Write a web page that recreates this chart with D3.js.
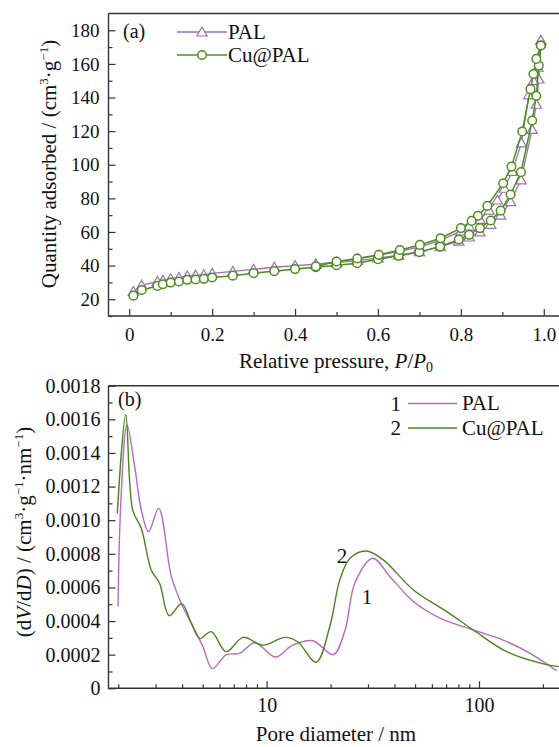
<!DOCTYPE html>
<html>
<head>
<meta charset="utf-8">
<script src="https://cdn.jsdelivr.net/npm/d3@7"></script>
<style>
  html, body { margin: 0; padding: 0; background: #fff; }
</style>
</head>
<body>
<svg id="mainsvg" width="559" height="747"></svg>
<script>
// ---- (a) N2 isotherms ----
var adsP = [0.01, 0.03, 0.068, 0.081, 0.10, 0.12, 0.14, 0.16, 0.18, 0.20, 0.25, 0.30, 0.35, 0.40, 0.45, 0.50,
  0.55, 0.60, 0.65, 0.70, 0.75, 0.795, 0.82, 0.846, 0.872, 0.896, 0.92, 0.945, 0.972, 0.982, 0.988, 0.993];
var palAds = [24.6, 28.3, 30.6, 31.2, 32.2, 32.9, 33.8, 34.3, 34.6, 35.4, 36.6, 37.8, 39.0, 40.0, 40.8, 41.8,
  43.0, 44.5, 46.2, 48.3, 51.2, 54.5, 57.0, 60.0, 64.5, 70.0, 78.0, 91.0, 121.0, 136.0, 151.0, 174.0];
var cuAds = [22.1, 25.5, 27.9, 28.9, 29.9, 30.5, 31.5, 31.7, 32.1, 32.9, 34.0, 35.5, 36.7, 37.9, 39.0, 40.2,
  41.4, 43.8, 45.8, 48.0, 51.3, 55.5, 58.3, 62.3, 66.8, 72.7, 82.3, 95.6, 126.3, 141.0, 159.0, 171.0];

var palDesP = [0.993, 0.986, 0.975, 0.964, 0.946, 0.924, 0.905, 0.888, 0.868, 0.846, 0.82, 0.80, 0.75, 0.70,
  0.65, 0.60, 0.55, 0.50, 0.45];
var palDes = [174.0, 158.0, 150.0, 141.6, 113.0, 96.0, 86.0, 79.0, 73.0, 67.5, 63.5, 60.5, 55.0, 51.0,
  48.5, 46.0, 44.0, 42.0, 40.8];
var cuDesP = [0.993, 0.982, 0.975, 0.968, 0.948, 0.922, 0.902, 0.864, 0.841, 0.826, 0.80, 0.751, 0.701, 0.653,
  0.602, 0.55, 0.50, 0.45];
var cuDes = [171.0, 163.0, 154.0, 145.0, 119.8, 98.9, 89.0, 75.5, 69.6, 66.6, 62.3, 56.3, 52.3, 49.3,
  46.4, 44.2, 42.4, 39.5];

var aXTicks = [0, 0.2, 0.4, 0.6, 0.8, 1.0];
var aYTicks = [20, 40, 60, 80, 100, 120, 140, 160, 180];

// ---- (b) pore size distribution ----
var palD = [1.995, 2.06, 2.20, 2.39, 2.57, 2.78, 3.10, 3.56, 3.96, 4.50, 5.01, 5.55, 6.46, 7.46, 8.80, 11.0,
  13.2, 16.5, 20.6, 23.4, 26.1, 31.6, 38.1, 49.1, 65.5, 94.0, 130.0, 174.0, 232.0];
var palV = [0.000486, 0.00112, 0.001567, 0.00132, 0.00106, 0.000932, 0.00107, 0.000664, 0.000506, 0.000367,
  0.000248, 0.000117, 0.000200, 0.000208, 0.000271, 0.000186, 0.000255, 0.000283, 0.000200, 0.000347,
  0.000630, 0.000774, 0.000664, 0.000516, 0.000417, 0.000347, 0.000287, 0.000208, 0.000105];
var cuD = [1.98, 2.17, 2.34, 2.57, 2.86, 3.13, 3.48, 3.98, 4.42, 4.85, 5.48, 6.45, 7.74, 9.61, 12.2, 14.0,
  17.1, 19.9, 22.1, 24.7, 29.4, 35.4, 49.1, 70.5, 94.0, 135.0, 201.0, 238.0];
var cuV = [0.00104, 0.001627, 0.00106, 0.000950, 0.000704, 0.000625, 0.000432, 0.000504, 0.000387, 0.000296,
  0.000337, 0.000218, 0.000303, 0.000257, 0.000303, 0.000277, 0.000155, 0.000375, 0.000645, 0.000774,
  0.000817, 0.000764, 0.000585, 0.000456, 0.000347, 0.000218, 0.000145, 0.000129];

var bYTicks = [0, 0.0002, 0.0004, 0.0006, 0.0008, 0.0010, 0.0012, 0.0014, 0.0016, 0.0018];
var bXTicks = [10, 100];

var purpleA = "#9f6fb8";
var greenA = "#4d8f1f";
var purpleB = "#b86cbc";
var greenB = "#4a8420";
var axisColor = "#333";
var serif = "'Liberation Serif', 'Times New Roman', serif";

var svg = d3.select("#mainsvg");

function inwardAxis(g, axis, size) {
  g.call(axis);
  g.selectAll(".domain").remove();
  g.selectAll(".tick line").attr("stroke", axisColor).attr("stroke-width", 1.2);
  g.selectAll("text").attr("fill", "#111").attr("font-size", size || 19);
}

function frame(g, x0, x1, y0, y1) {
  g.append("path")
    .attr("d", "M" + x0 + "," + y0 + "H" + x1 + "M" + x0 + "," + y0 + "V" + y1 + "H" + x1)
    .attr("fill", "none")
    .attr("stroke", axisColor)
    .attr("stroke-width", 1.4);
}

function zipPts(xs, ys) {
  return xs.map(function (x, i) { return [x, ys[i]]; });
}

// ================= panel (a) =================
var ax = d3.scaleLinear().domain([-0.05, 1.05]).range([108.5, 564.5]);
var ay = d3.scaleLinear().domain([10, 190]).range([316, 13.5]);
var ga = svg.append("g");

var aXMinor = d3.range(0.1, 1.0, 0.2);
var aYMinor = d3.range(10, 190, 20);
ga.append("g")
  .attr("transform", "translate(0,316)")
  .call(function (g) {
    inwardAxis(g, d3.axisBottom(ax).tickValues(aXMinor).tickSize(-4).tickFormat(""));
  });
ga.append("g")
  .attr("transform", "translate(108.5,0)")
  .call(function (g) {
    inwardAxis(g, d3.axisLeft(ay).tickValues(aYMinor).tickSize(-4).tickFormat(""));
  });
ga.append("g")
  .attr("transform", "translate(0,316)")
  .call(function (g) {
    inwardAxis(g, d3.axisBottom(ax).tickValues(aXTicks).tickSize(-7).tickPadding(12)
      .tickFormat(function (d) { return d === 0 ? "0" : d3.format(".1f")(d); }), 19);
  });
ga.append("g")
  .attr("transform", "translate(108.5,0)")
  .call(function (g) {
    inwardAxis(g, d3.axisLeft(ay).tickValues(aYTicks).tickSize(-7).tickPadding(9), 19);
  });
frame(ga, 108.5, 564.5, 13.5, 316);

var lineA = d3.line()
  .x(function (d) { return ax(d[0]); })
  .y(function (d) { return ay(d[1]); });

var palAdsPts = zipPts(adsP, palAds);
var palDesPts = zipPts(palDesP, palDes);
var cuAdsPts = zipPts(adsP, cuAds);
var cuDesPts = zipPts(cuDesP, cuDes);

var tri = d3.symbol().type(d3.symbolTriangle).size(46);

// PAL first (underneath)
[palAdsPts, palDesPts].forEach(function (pts) {
  ga.append("path").datum(pts)
    .attr("d", lineA).attr("fill", "none")
    .attr("stroke", purpleA).attr("stroke-width", 1.3);
});
ga.append("g").selectAll("path")
  .data(palAdsPts.concat(palDesPts))
  .enter()
  .append("path")
  .attr("d", tri)
  .attr("transform", function (d) { return "translate(" + ax(d[0]) + "," + (ay(d[1]) + 1) + ")"; })
  .attr("fill", "#fff")
  .attr("stroke", purpleA)
  .attr("stroke-width", 1.2);

[cuAdsPts, cuDesPts].forEach(function (pts) {
  ga.append("path").datum(pts)
    .attr("d", lineA).attr("fill", "none")
    .attr("stroke", greenA).attr("stroke-width", 1.5);
});
ga.append("g").selectAll("circle")
  .data(cuAdsPts.concat(cuDesPts))
  .enter()
  .append("circle")
  .attr("cx", function (d) { return ax(d[0]); })
  .attr("cy", function (d) { return ay(d[1]); })
  .attr("r", 4.3)
  .attr("fill", "#fff")
  .attr("stroke", greenA)
  .attr("stroke-width", 1.5);

// legend (a)
ga.append("text").attr("x", 123).attr("y", 38).attr("font-size", 20).text("(a)");
var legA = [
  { name: "PAL", color: purpleA, y: 32 },
  { name: "Cu@PAL", color: greenA, y: 55 }
];
legA.forEach(function (d, i) {
  ga.append("line")
    .attr("x1", 177).attr("x2", 227).attr("y1", d.y).attr("y2", d.y)
    .attr("stroke", d.color).attr("stroke-width", 1.4);
  if (i === 0) {
    ga.append("path").attr("d", tri)
      .attr("transform", "translate(202," + (d.y + 1) + ")")
      .attr("fill", "#fff").attr("stroke", d.color).attr("stroke-width", 1.2);
  } else {
    ga.append("circle").attr("cx", 202).attr("cy", d.y).attr("r", 4.3)
      .attr("fill", "#fff").attr("stroke", d.color).attr("stroke-width", 1.5);
  }
  ga.append("text").attr("x", 228).attr("y", d.y + 6.5).attr("font-size", 21).text(d.name);
});

// axis titles (a)
var ta = ga.append("text")
  .attr("transform", "translate(56,164) rotate(-90)")
  .attr("text-anchor", "middle")
  .attr("font-size", 21);
ta.append("tspan").text("Quantity adsorbed / (cm");
ta.append("tspan").attr("font-size", 13).attr("dy", -8).text("3");
ta.append("tspan").attr("dy", 8).text("·g");
ta.append("tspan").attr("font-size", 13).attr("dy", -8).text("−1");
ta.append("tspan").attr("dy", 8).text(")");

var xa = ga.append("text")
  .attr("x", 336).attr("y", 368)
  .attr("text-anchor", "middle")
  .attr("font-size", 21);
xa.append("tspan").text("Relative pressure, ");
xa.append("tspan").attr("font-style", "italic").text("P");
xa.append("tspan").text("/");
xa.append("tspan").attr("font-style", "italic").text("P");
xa.append("tspan").attr("font-size", 14).attr("dy", 4).text("0");

// ================= panel (b) =================
var bx = d3.scaleLog().domain([1.8, 250]).range([108.5, 563.5]);
var by = d3.scaleLinear().domain([0, 0.0018]).range([688.3, 385.7]);
var gb = svg.append("g");

var bXMinor = [2, 3, 4, 5, 6, 7, 8, 9, 20, 30, 40, 50, 60, 70, 80, 90, 200];
var bYMinor = d3.range(0.0001, 0.0018, 0.0002);
gb.append("g")
  .attr("transform", "translate(0,688.3)")
  .call(function (g) {
    inwardAxis(g, d3.axisBottom(bx).tickValues(bXMinor).tickSize(-4).tickFormat(""));
  });
gb.append("g")
  .attr("transform", "translate(108.5,0)")
  .call(function (g) {
    inwardAxis(g, d3.axisLeft(by).tickValues(bYMinor).tickSize(-4).tickFormat(""));
  });
gb.append("g")
  .attr("transform", "translate(0,688.3)")
  .call(function (g) {
    inwardAxis(g, d3.axisBottom(bx).tickValues(bXTicks).tickSize(-7).tickPadding(10)
      .tickFormat(d3.format("d")), 20);
  });
gb.append("g")
  .attr("transform", "translate(108.5,0)")
  .call(function (g) {
    inwardAxis(g, d3.axisLeft(by).tickValues(bYTicks).tickSize(-7).tickPadding(8)
      .tickFormat(function (d) { return d === 0 ? "0" : d3.format(".4f")(d); }), 20);
  });
frame(gb, 108.5, 563.5, 385.7, 688.3);

var lineB = d3.line()
  .x(function (d) { return bx(d[0]); })
  .y(function (d) { return by(d[1]); })
  .curve(d3.curveCatmullRom.alpha(0.5));

gb.append("path").datum(zipPts(palD, palV))
  .attr("d", lineB).attr("fill", "none")
  .attr("stroke", purpleB).attr("stroke-width", 1.4);
gb.append("path").datum(zipPts(cuD, cuV))
  .attr("d", lineB).attr("fill", "none")
  .attr("stroke", greenB).attr("stroke-width", 1.4);

// legend (b)
gb.append("text").attr("x", 118).attr("y", 406).attr("font-size", 20).text("(b)");
var legB = [
  { num: "1", name: "PAL", color: purpleB, y: 403.5 },
  { num: "2", name: "Cu@PAL", color: greenB, y: 428 }
];
legB.forEach(function (d) {
  gb.append("text").attr("x", 401).attr("y", d.y + 7).attr("text-anchor", "end")
    .attr("font-size", 21).text(d.num);
  gb.append("line")
    .attr("x1", 408).attr("x2", 457).attr("y1", d.y).attr("y2", d.y)
    .attr("stroke", d.color).attr("stroke-width", 1.4);
  gb.append("text").attr("x", 462).attr("y", d.y + 6.5).attr("font-size", 21).text(d.name);
});
gb.append("text").attr("x", 342).attr("y", 563).attr("text-anchor", "middle").attr("font-size", 21).text("2");
gb.append("text").attr("x", 367).attr("y", 604).attr("text-anchor", "middle").attr("font-size", 21).text("1");

// axis titles (b)
var tb = gb.append("text")
  .attr("transform", "translate(31,532) rotate(-90)")
  .attr("text-anchor", "middle")
  .attr("font-size", 21);
tb.append("tspan").text("(d");
tb.append("tspan").attr("font-style", "italic").text("V");
tb.append("tspan").text("/d");
tb.append("tspan").attr("font-style", "italic").text("D");
tb.append("tspan").text(") / (cm");
tb.append("tspan").attr("font-size", 13).attr("dy", -8).text("3");
tb.append("tspan").attr("dy", 8).text("·g");
tb.append("tspan").attr("font-size", 13).attr("dy", -8).text("−1");
tb.append("tspan").attr("dy", 8).text("·nm");
tb.append("tspan").attr("font-size", 13).attr("dy", -8).text("−1");
tb.append("tspan").attr("dy", 8).text(")");

gb.append("text")
  .attr("x", 336).attr("y", 741)
  .attr("text-anchor", "middle")
  .attr("font-size", 21)
  .text("Pore diameter / nm");

// one serif face for every label
svg.selectAll("text")
  .style("font-family", serif)
  .attr("fill", "#111");
</script>
</body>
</html>
